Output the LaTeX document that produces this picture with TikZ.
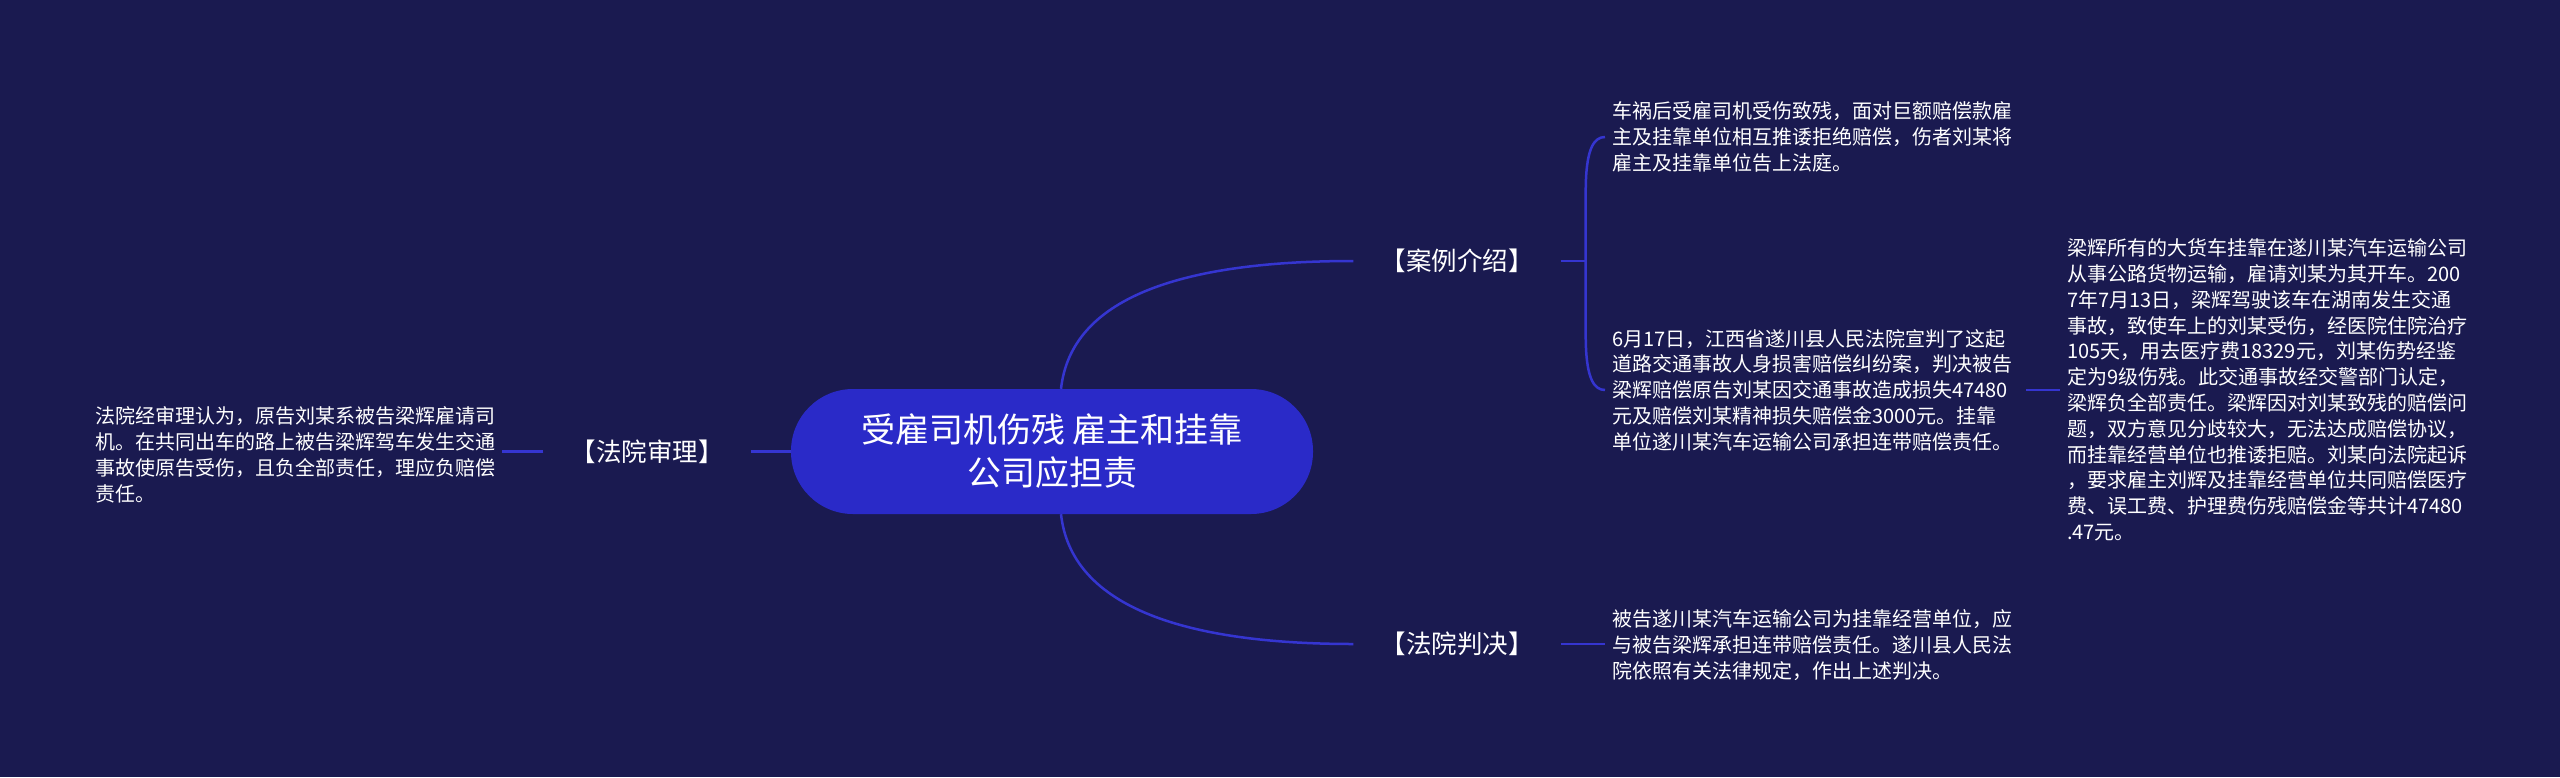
\documentclass[tikz,border=0pt]{standalone}
\usepackage{fontspec}
\setmainfont{Noto Sans CJK SC}
\usetikzlibrary{calc}
\definecolor{bg}{HTML}{1A1A50}
\definecolor{pillc}{HTML}{2A2AC8}
\definecolor{linkc}{HTML}{3535D0}
\begin{document}
\begin{tikzpicture}[x=1pt,y=-1pt,
  conn/.style={draw=linkc,line width=2.5pt},
  lab/.style={text=white,font=\fontsize{25.5}{30}\selectfont,inner xsep=27pt,inner ysep=4pt},
  body/.style={text=white,font=\fontsize{20}{25.8}\selectfont,align=left,inner xsep=7pt,inner ysep=2pt},
]
\fill[bg] (0,0) rectangle (2560,777);
\useasboundingbox (0,0) rectangle (2560,777);

\node[fill=pillc, rounded corners=62pt, minimum width=522pt, minimum height=125pt, text=white,
      font=\fontsize{34}{43}\selectfont, align=center] (root) at (1052,451.5)
      {受雇司机伤残 雇主和挂靠\\公司应担责};

\node[lab] (case) at (1457,261) {【案例介绍】};
\node[lab] (verdict) at (1457,644) {【法院判决】};
\node[lab] (trial) at (647,451.5) {【法院审理】};

\node[body, anchor=west] (t1) at (1605,137)
 {车祸后受雇司机受伤致残，面对巨额赔偿款雇\\主及挂靠单位相互推诿拒绝赔偿，伤者刘某将\\雇主及挂靠单位告上法庭。};
\node[body, anchor=west] (t2) at (1605,390)
 {6月17日，江西省遂川县人民法院宣判了这起\\道路交通事故人身损害赔偿纠纷案，判决被告\\梁辉赔偿原告刘某因交通事故造成损失47480\\元及赔偿刘某精神损失赔偿金3000元。挂靠\\单位遂川某汽车运输公司承担连带赔偿责任。};
\node[body, anchor=west] (t3) at (2060,390)
 {梁辉所有的大货车挂靠在遂川某汽车运输公司\\从事公路货物运输，雇请刘某为其开车。200\\7年7月13日，梁辉驾驶该车在湖南发生交通\\事故，致使车上的刘某受伤，经医院住院治疗\\105天，用去医疗费18329元，刘某伤势经鉴\\定为9级伤残。此交通事故经交警部门认定，\\梁辉负全部责任。梁辉因对刘某致残的赔偿问\\题，双方意见分歧较大，无法达成赔偿协议，\\而挂靠经营单位也推诿拒赔。刘某向法院起诉\\，要求雇主刘辉及挂靠经营单位共同赔偿医疗\\费、误工费、护理费伤残赔偿金等共计47480\\.47元。};
\node[body, anchor=west] (t4) at (1605,645)
 {被告遂川某汽车运输公司为挂靠经营单位，应\\与被告梁辉承担连带赔偿责任。遂川县人民法\\院依照有关法律规定，作出上述判决。};
\node[body, anchor=west] (tl) at (88,455)
 {法院经审理认为，原告刘某系被告梁辉雇请司\\机。在共同出车的路上被告梁辉驾车发生交通\\事故使原告受伤，且负全部责任，理应负赔偿\\责任。};

% root to branches
\draw[conn] ([xshift=9pt]root.north) .. controls +(10,-90) and +(-175,0) .. (case.west);
\draw[conn] ([xshift=9pt]root.south) .. controls +(10,90) and +(-175,0) .. (verdict.west);
\draw[conn] (root.west) -- (trial.east);
\draw[conn] (trial.west) -- (trial.west -| tl.east);

% case bracket
\coordinate (cj) at ($(case.east)+(25,0)$);
\draw[conn] (case.east) -- (cj);
\draw[conn] (cj) -- ($(cj|-t1.west)+(0,55)$) .. controls ($(cj|-t1.west)+(0,12)$) and ($(cj|-t1.west)+(8,0)$) .. (t1.west);
\draw[conn] (cj) -- ($(cj|-t2.west)+(0,-55)$) .. controls ($(cj|-t2.west)+(0,-12)$) and ($(cj|-t2.west)+(8,0)$) .. (t2.west);
\draw[conn] ([xshift=7pt]t2.east) -- (t3.west);

% verdict
\draw[conn] (verdict.east) -- (verdict.east -| t4.west);
\end{tikzpicture}
\end{document}
